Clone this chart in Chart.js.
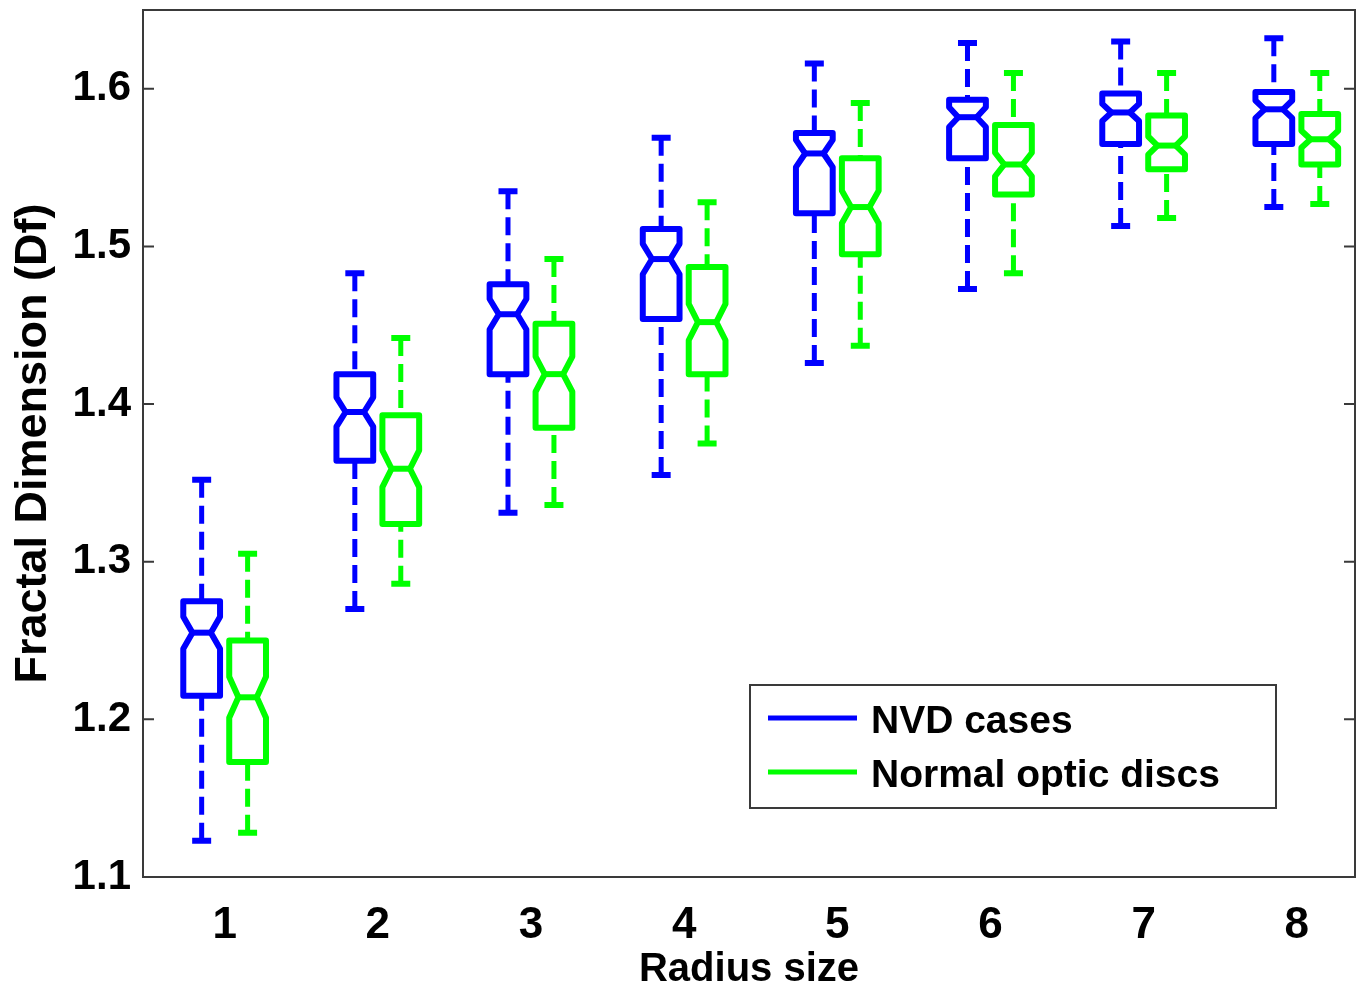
<!DOCTYPE html>
<html>
<head>
<meta charset="utf-8">
<script src="https://cdn.jsdelivr.net/npm/chart.js@4.4.1/dist/chart.umd.min.js"></script>
<style>
html, body { margin: 0; padding: 0; background: #fff; }
</style>
</head>
<body>
<canvas id="boxChart" width="1363" height="994"></canvas>
<script>
// Radius sizes (x positions of the box pairs)
const radius = [1, 2, 3, 4, 5, 6, 7, 8];
const yTicks = [1.1, 1.2, 1.3, 1.4, 1.5, 1.6];

// NVD cases: whisker ends, quartiles, medians
const nvdLow  = [1.123, 1.270, 1.331, 1.355, 1.426, 1.473, 1.513, 1.525];
const nvdQ1   = [1.215, 1.364, 1.419, 1.454, 1.521, 1.556, 1.565, 1.565];
const nvdMed  = [1.255, 1.395, 1.457, 1.492, 1.559, 1.582, 1.585, 1.587];
const nvdQ3   = [1.275, 1.419, 1.476, 1.511, 1.572, 1.593, 1.597, 1.598];
const nvdHigh = [1.352, 1.483, 1.535, 1.569, 1.616, 1.629, 1.630, 1.632];

// Normal optic discs
const norLow  = [1.128, 1.286, 1.336, 1.375, 1.437, 1.483, 1.518, 1.527];
const norQ1   = [1.173, 1.324, 1.385, 1.419, 1.495, 1.533, 1.549, 1.552];
const norMed  = [1.214, 1.359, 1.419, 1.452, 1.525, 1.552, 1.564, 1.568];
const norQ3   = [1.250, 1.393, 1.451, 1.487, 1.556, 1.577, 1.583, 1.584];
const norHigh = [1.305, 1.442, 1.492, 1.528, 1.591, 1.610, 1.610, 1.610];

const sampleSize = 86; // used for notch size (1.57 * IQR / sqrt(n))

const FONT = "'Liberation Sans', Arial, sans-serif";
const BLUE = "#0000ff";
const GREEN = "#00ff00";

const series = [
    { label: "NVD cases", color: BLUE, offset: -0.15, low: nvdLow, q1: nvdQ1, med: nvdMed, q3: nvdQ3, high: nvdHigh },
    { label: "Normal optic discs", color: GREEN, offset: 0.15, low: norLow, q1: norQ1, med: norMed, q3: norQ3, high: norHigh },
];

const boxHalf = 0.12;
const capHalf = 0.062;

function drawBox(ctx, xs, ys, pos, low, q1, med, q3, high, color) {
    const cx = xs.getPixelForValue(pos);
    const hw = xs.getPixelForValue(pos + boxHalf) - cx;
    const capHw = xs.getPixelForValue(pos + capHalf) - cx;
    const notch = 1.57 * (q3 - q1) / Math.sqrt(sampleSize);
    const nLo = Math.max(q1, med - notch);
    const nHi = Math.min(q3, med + notch);
    const inset = hw * 0.5;

    ctx.strokeStyle = color;

    // whiskers (dashed, drawn from the cap towards the box)
    ctx.lineWidth = 5;
    ctx.lineCap = "butt";
    ctx.setLineDash([18, 8]);
    ctx.beginPath();
    ctx.moveTo(cx, ys.getPixelForValue(high));
    ctx.lineTo(cx, ys.getPixelForValue(q3));
    ctx.moveTo(cx, ys.getPixelForValue(low));
    ctx.lineTo(cx, ys.getPixelForValue(q1));
    ctx.stroke();
    ctx.setLineDash([]);

    // caps
    ctx.lineWidth = 6;
    ctx.beginPath();
    [high, low].forEach(v => {
        const py = ys.getPixelForValue(v);
        ctx.moveTo(cx - capHw, py);
        ctx.lineTo(cx + capHw, py);
    });
    ctx.stroke();

    // notched box
    const pQ1 = ys.getPixelForValue(q1);
    const pQ3 = ys.getPixelForValue(q3);
    const pMed = ys.getPixelForValue(med);
    const pLo = ys.getPixelForValue(nLo);
    const pHi = ys.getPixelForValue(nHi);
    ctx.lineWidth = 6;
    ctx.lineJoin = "round";
    ctx.fillStyle = "#fff";
    ctx.beginPath();
    ctx.moveTo(cx - hw, pQ1);
    ctx.lineTo(cx - hw, pLo);
    ctx.lineTo(cx - hw + inset, pMed);
    ctx.lineTo(cx - hw, pHi);
    ctx.lineTo(cx - hw, pQ3);
    ctx.lineTo(cx + hw, pQ3);
    ctx.lineTo(cx + hw, pHi);
    ctx.lineTo(cx + hw - inset, pMed);
    ctx.lineTo(cx + hw, pLo);
    ctx.lineTo(cx + hw, pQ1);
    ctx.closePath();
    ctx.fill();
    ctx.stroke();

    // median
    ctx.beginPath();
    ctx.moveTo(cx - hw + inset, pMed);
    ctx.lineTo(cx + hw - inset, pMed);
    ctx.stroke();
}

const boxPlugin = {
    id: "notchedBoxes",
    afterDatasetsDraw(chart) {
        const { ctx, scales: { x, y } } = chart;
        ctx.save();
        series.forEach(s => {
            radius.forEach((r, i) => {
                drawBox(ctx, x, y, r + s.offset, s.low[i], s.q1[i], s.med[i], s.q3[i], s.high[i], s.color);
            });
        });
        ctx.restore();
    },
    afterDraw(chart) {
        const { ctx, chartArea: a, scales: { y } } = chart;
        ctx.save();

        // axes frame and inward y ticks on both sides
        ctx.strokeStyle = "#3a3a3a";
        ctx.lineWidth = 2;
        ctx.strokeRect(a.left, a.top, a.right - a.left, a.bottom - a.top);
        ctx.beginPath();
        yTicks.forEach(v => {
            const py = y.getPixelForValue(v);
            ctx.moveTo(a.left, py);
            ctx.lineTo(a.left + 11, py);
            ctx.moveTo(a.right, py);
            ctx.lineTo(a.right - 11, py);
        });
        ctx.stroke();

        // legend box
        const lx = 750, ly = 685, lw = 526, lh = 123;
        ctx.fillStyle = "#fff";
        ctx.fillRect(lx, ly, lw, lh);
        ctx.strokeStyle = "#3a3a3a";
        ctx.lineWidth = 2;
        ctx.strokeRect(lx, ly, lw, lh);
        ctx.font = "bold 39px " + FONT;
        ctx.textBaseline = "middle";
        ctx.textAlign = "left";
        chart.data.datasets.forEach((ds, i) => {
            const rowY = 718 + i * 54;
            ctx.strokeStyle = ds.borderColor;
            ctx.lineWidth = 5;
            ctx.beginPath();
            ctx.moveTo(768, rowY);
            ctx.lineTo(857, rowY);
            ctx.stroke();
            ctx.fillStyle = "#000";
            ctx.fillText(ds.label, 871, rowY + 4);
        });
        ctx.restore();
    }
};

const ctxBox = document.getElementById("boxChart").getContext("2d");

new Chart(ctxBox, {
    type: "scatter",
    data: {
        datasets: series.map(s => ({
            label: s.label,
            data: radius.map((r, i) => ({ x: r + s.offset, y: s.med[i] })),
            borderColor: s.color,
            backgroundColor: s.color,
            pointRadius: 0,
            showLine: false,
        })),
    },
    options: {
        responsive: false,
        animation: false,
        layout: { padding: { top: 10, right: 8, left: 0, bottom: 0 } },
        plugins: {
            legend: { display: false },
            tooltip: { enabled: false },
        },
        scales: {
            x: {
                type: "linear",
                min: 0.467,
                max: 8.38,
                afterBuildTicks: s => { s.ticks = radius.map(v => ({ value: v })); },
                afterFit: s => { s.height = 117; s.paddingLeft = 0; s.paddingRight = 0; },
                grid: { display: false, drawTicks: false },
                border: { display: false },
                ticks: {
                    color: "#000",
                    font: { family: FONT, size: 44, weight: "bold" },
                    padding: 22,
                    maxRotation: 0,
                    autoSkip: false,
                    callback: v => String(v),
                },
                title: {
                    display: true,
                    text: "Radius size",
                    color: "#000",
                    font: { family: FONT, size: 40, weight: "bold" },
                    padding: 0,
                },
            },
            y: {
                min: 1.1,
                max: 1.65,
                afterBuildTicks: s => { s.ticks = yTicks.map(v => ({ value: v })); },
                afterFit: s => { s.width = 143; s.paddingTop = 0; s.paddingBottom = 0; },
                grid: { display: false, drawTicks: false },
                border: { display: false },
                ticks: {
                    color: "#000",
                    font: { family: FONT, size: 42, weight: "bold" },
                    padding: 12,
                    autoSkip: false,
                    callback: v => v.toFixed(1),
                },
                title: {
                    display: true,
                    text: "Fractal Dimension (Df)",
                    color: "#000",
                    font: { family: FONT, size: 45, weight: "bold" },
                    padding: { top: 7, bottom: 0 },
                },
            },
        },
    },
    plugins: [boxPlugin],
});
</script>
</body>
</html>
